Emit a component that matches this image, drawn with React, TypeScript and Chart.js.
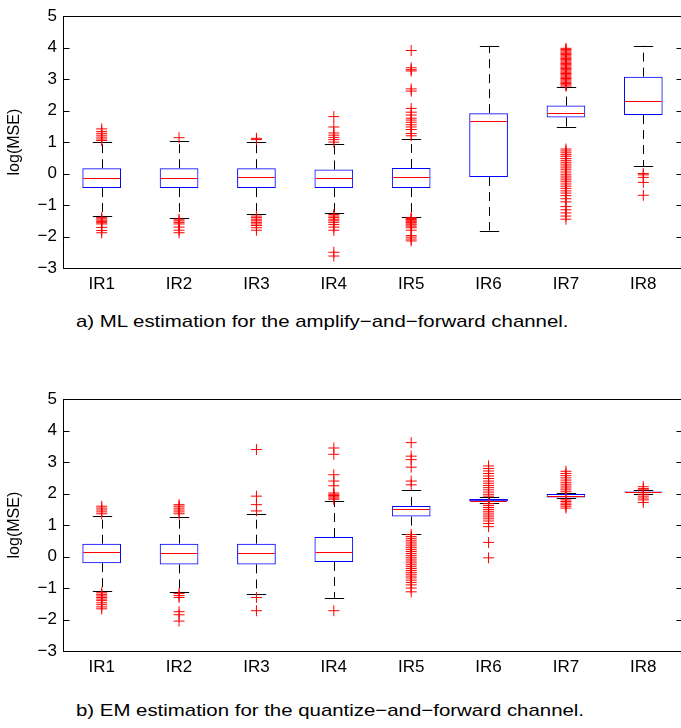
import React, { useEffect, useRef } from "react";
import { Chart, registerables } from "chart.js";

Chart.register(...registerables);

const categories = ["IR1", "IR2", "IR3", "IR4", "IR5", "IR6", "IR7", "IR8"];
const yTickValues = [-3, -2, -1, 0, 1, 2, 3, 4, 5];

// Panel a) ML estimation, amplify-and-forward
const mlQ1 = [-0.46, -0.46, -0.46, -0.46, -0.46, -0.11, 1.78, 1.86];
const mlMedian = [-0.14, -0.14, -0.11, -0.14, -0.1, 1.68, 1.92, 2.32];
const mlQ3 = [0.17, 0.17, 0.17, 0.13, 0.18, 1.92, 2.16, 3.08];
const mlLowWhisker = [-1.36, -1.4, -1.3, -1.26, -1.38, -1.81, 1.47, 0.24];
const mlHighWhisker = [1.0, 1.04, 1.0, 0.94, 1.09, 4.06, 2.74, 4.06];
const mlOutliers = [
  [1.05, 1.1, 1.16, 1.22, 1.28, 1.34, 1.42, -1.4, -1.44, -1.48, -1.52, -1.56, -1.6, -1.71, -1.81, -1.88],
  [1.14, -1.45, -1.5, -1.55, -1.6, -1.7, -1.8, -1.88],
  [1.08, 1.12, -1.35, -1.4, -1.45, -1.5, -1.55, -1.6, -1.65, -1.72, -1.8],
  [1.0, 1.08, 1.15, 1.22, 1.29, 1.48, 1.81, -1.3, -1.35, -1.4, -1.45, -1.5, -1.55, -1.62, -1.7, -1.8, -2.5, -2.62],
  [1.2, 1.27, 1.4, 1.48, 1.55, 1.63, 1.7, 1.76, 1.86, 1.95, 2.07, 2.62, 2.69, 3.26, 3.3, 3.36, 3.91,
    -1.4, -1.43, -1.46, -1.5, -1.53, -1.56, -1.6, -1.63, -1.67, -1.72, -1.8, -1.97, -2.02, -2.08, -2.14],
  [],
  [2.78, 2.82, 2.86, 2.9, 2.94, 2.98, 3.02, 3.06, 3.1, 3.14, 3.18, 3.22, 3.26, 3.3, 3.34, 3.38, 3.42, 3.46,
    3.5, 3.54, 3.58, 3.62, 3.66, 3.7, 3.74, 3.78, 3.82, 3.86, 3.9, 3.94, 3.98,
    0.78, 0.72, 0.66, 0.6, 0.55, 0.48, 0.42, 0.36, 0.3, 0.24, 0.18, 0.12, 0.05, -0.02, -0.08, -0.14, -0.2,
    -0.26, -0.33, -0.4, -0.47, -0.55, -0.62, -0.7, -0.8, -0.9, -1.05, -1.15, -1.25, -1.35, -1.45],
  [0.0, -0.04, -0.12, -0.28, -0.69],
];

// Panel b) EM estimation, quantize-and-forward
const emQ1 = [-0.21, -0.25, -0.25, -0.17, 1.27, 1.76, 1.88, 2.04];
const emMedian = [0.14, 0.11, 0.11, 0.14, 1.5, 1.78, 1.93, 2.05];
const emQ3 = [0.41, 0.41, 0.41, 0.62, 1.61, 1.83, 1.99, 2.07];
const emLowWhisker = [-1.09, -1.12, -1.2, -1.31, 0.72, 1.71, 1.85, 2.0];
const emHighWhisker = [1.3, 1.26, 1.35, 1.77, 2.12, 1.88, 2.02, 2.1];
const emOutliers = [
  [1.36, 1.42, 1.48, 1.54, 1.6, -1.15, -1.2, -1.25, -1.3, -1.35, -1.4, -1.47, -1.53, -1.6, -1.66],
  [1.36, 1.42, 1.48, 1.54, 1.6, 1.65, -1.17, -1.24, -1.3, -1.75, -1.85, -2.05],
  [1.45, 1.65, 1.92, 3.4, -1.3, -1.72],
  [1.82, 1.86, 1.9, 1.94, 1.98, 2.02, 2.25, 2.4, 2.6, 3.25, 3.45, -1.72],
  [2.28, 2.4, 2.84, 3.08, 3.19, 3.62,
    0.7, 0.64, 0.58, 0.52, 0.46, 0.4, 0.34, 0.28, 0.22, 0.16, 0.1, 0.04, -0.02, -0.08, -0.14, -0.2,
    -0.26, -0.32, -0.38, -0.44, -0.5, -0.56, -0.62, -0.68, -0.75, -0.82, -0.9, -1.0, -1.12],
  [2.88, 2.8, 2.72, 2.64, 2.56, 2.48, 2.4, 2.33, 2.26, 2.19, 2.12, 2.05, 1.98, 1.92, 1.68, 1.62, 1.56,
    1.5, 1.44, 1.38, 1.32, 1.26, 1.2, 1.13, 1.05, 0.95, 0.45, -0.04],
  [2.71, 2.64, 2.57, 2.5, 2.43, 2.36, 2.3, 2.24, 2.18, 2.12, 2.06, 1.8, 1.75, 1.7, 1.65, 1.6, 1.54],
  [2.22, 2.16, 2.12, 1.98, 1.92, 1.86, 1.8, 1.72],
];

const FONT = '"Liberation Sans", Arial, Helvetica, sans-serif';

type Panel = {
  q1: number[];
  median: number[];
  q3: number[];
  lo: number[];
  hi: number[];
  outliers: number[][];
};

const fmt = (v: number) => (v < 0 ? "\u2212" + Math.abs(v) : String(v));

function makeConfig(p: Panel): any {
  const boxPlugin = {
    id: "boxWhiskers",
    beforeDatasetsDraw(chart: any) {
      const ctx = chart.ctx;
      const y = chart.scales.y;
      const meta = chart.getDatasetMeta(0);
      ctx.save();
      ctx.strokeStyle = "#000";
      ctx.lineWidth = 1;
      categories.forEach((_, i) => {
        const el = meta.data[i];
        const x = Math.round(el.x) + 0.5;
        const half = el.width / 2;
        const cap = half / 2;
        const segs = [
          [p.q3[i], p.hi[i]],
          [p.q1[i], p.lo[i]],
        ];
        segs.forEach(([from, to]) => {
          const y0 = y.getPixelForValue(from);
          const y1 = y.getPixelForValue(to);
          ctx.setLineDash([9, 6]);
          ctx.beginPath();
          ctx.moveTo(x, y0);
          ctx.lineTo(x, y1);
          ctx.stroke();
          ctx.setLineDash([]);
          const yc = Math.round(y1) + 0.5;
          ctx.beginPath();
          ctx.moveTo(x - cap, yc);
          ctx.lineTo(x + cap, yc);
          ctx.stroke();
        });
      });
      ctx.restore();
    },
    afterDatasetDraw(chart: any, args: any) {
      if (args.index !== 0) return;
      const ctx = chart.ctx;
      const y = chart.scales.y;
      const meta = chart.getDatasetMeta(0);
      ctx.save();
      ctx.strokeStyle = "#ff0000";
      ctx.lineWidth = 1;
      categories.forEach((_, i) => {
        const el = meta.data[i];
        const half = el.width / 2;
        const ym = Math.round(y.getPixelForValue(p.median[i])) + 0.5;
        ctx.beginPath();
        ctx.moveTo(el.x - half + 1, ym);
        ctx.lineTo(el.x + half - 1, ym);
        ctx.stroke();
      });
      ctx.restore();
    },
    afterDraw(chart: any) {
      const ctx = chart.ctx;
      const a = chart.chartArea;
      const y = chart.scales.y;
      ctx.save();
      ctx.strokeStyle = "#000";
      ctx.lineWidth = 1;
      const L = Math.round(a.left) + 0.5;
      const R = Math.round(a.right) + 0.5;
      const T = Math.round(a.top) + 0.5;
      const B = Math.round(a.bottom) + 0.5;
      ctx.strokeRect(L, T, R - L, B - T);
      yTickValues.forEach((v) => {
        const yy = Math.round(y.getPixelForValue(v)) + 0.5;
        ctx.beginPath();
        ctx.moveTo(L, yy);
        ctx.lineTo(L + 6, yy);
        ctx.moveTo(R, yy);
        ctx.lineTo(R - 6, yy);
        ctx.stroke();
      });
      ctx.restore();
    },
  };

  const outlierPoints: { x: string; y: number }[] = [];
  p.outliers.forEach((arr, i) => arr.forEach((v) => outlierPoints.push({ x: categories[i], y: v })));

  return {
    type: "bar",
    data: {
      labels: categories,
      datasets: [
        {
          type: "bar",
          data: categories.map((_, i) => [p.q1[i], p.q3[i]]),
          backgroundColor: "rgba(0,0,0,0)",
          borderColor: "#0000ff",
          borderWidth: 1,
          borderSkipped: false,
          barPercentage: 0.5,
          categoryPercentage: 1,
          order: 2,
        },
        {
          type: "line",
          data: outlierPoints,
          showLine: false,
          pointStyle: "cross",
          pointRadius: 5.5,
          pointBorderColor: "#ff0000",
          pointBackgroundColor: "#ff0000",
          pointBorderWidth: 1,
          borderColor: "#ff0000",
          order: 1,
        },
      ],
    },
    options: {
      responsive: false,
      animation: false,
      events: [],
      layout: { padding: { top: 11, right: 18, left: 0, bottom: 0 } },
      plugins: { legend: { display: false }, tooltip: { enabled: false }, title: { display: false } },
      scales: {
        x: {
          type: "category",
          grid: { display: false, drawTicks: false },
          border: { display: false },
          ticks: { color: "#000", padding: 6, font: { family: FONT, size: 17 }, maxRotation: 0 },
          afterFit: (s: any) => {
            s.height = 32;
          },
        },
        y: {
          min: -3,
          max: 5,
          grid: { display: false, drawTicks: false },
          border: { display: false },
          afterBuildTicks: (s: any) => {
            s.ticks = yTickValues.map((v) => ({ value: v }));
          },
          ticks: {
            color: "#000",
            padding: 6,
            font: { family: FONT, size: 17 },
            callback: (v: any) => fmt(Number(v)),
          },
          title: {
            display: true,
            text: "log(MSE)",
            color: "#000",
            font: { family: FONT, size: 16 },
            padding: { top: 5, bottom: 0 },
          },
          afterFit: (s: any) => {
            s.width = 63;
          },
        },
      },
    },
    plugins: [boxPlugin],
  };
}

function BoxChart({ panel, top }: { panel: Panel; top: number }) {
  const ref = useRef<HTMLCanvasElement | null>(null);
  useEffect(() => {
    if (!ref.current) return;
    const chart = new Chart(ref.current, makeConfig(panel));
    return () => chart.destroy();
  }, []);
  return (
    <canvas
      ref={ref}
      width={700}
      height={300}
      style={{ position: "absolute", left: 0, top, width: 700, height: 300 }}
    />
  );
}

const captionStyle: React.CSSProperties = {
  position: "absolute",
  left: 76,
  fontFamily: FONT,
  fontSize: 17,
  color: "#000",
  whiteSpace: "nowrap",
  lineHeight: "18px",
  transformOrigin: "left center",
  transform: "scaleX(1.2)",
};

export default function App() {
  const ml: Panel = { q1: mlQ1, median: mlMedian, q3: mlQ3, lo: mlLowWhisker, hi: mlHighWhisker, outliers: mlOutliers };
  const em: Panel = { q1: emQ1, median: emMedian, q3: emQ3, lo: emLowWhisker, hi: emHighWhisker, outliers: emOutliers };
  return (
    <div
      style={{
        position: "fixed",
        left: 0,
        top: 0,
        width: 681,
        height: 728,
        overflow: "hidden",
        background: "#fff",
      }}
    >
      <BoxChart panel={ml} top={0} />
      <div style={{ ...captionStyle, top: 313 }}>a) ML estimation for the amplify−and−forward channel.</div>
      <BoxChart panel={em} top={383} />
      <div style={{ ...captionStyle, top: 702 }}>b) EM estimation for the quantize−and−forward channel.</div>
    </div>
  );
}
